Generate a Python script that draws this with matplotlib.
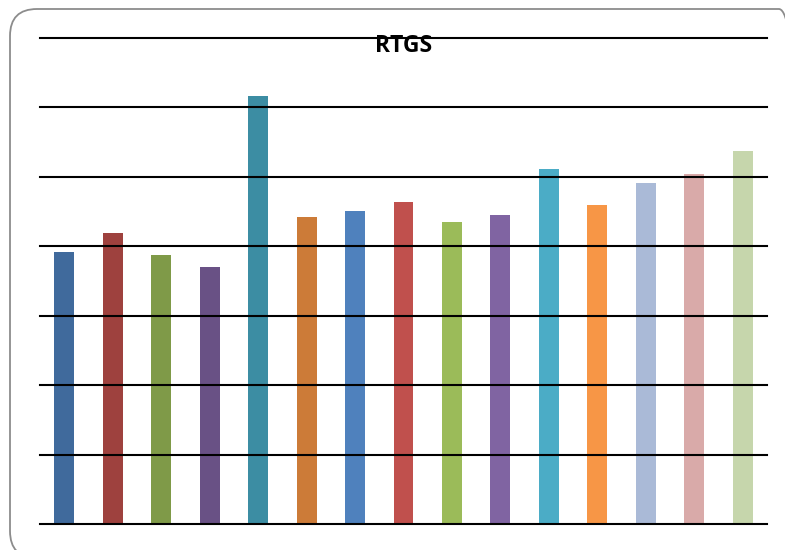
import matplotlib
matplotlib.use("Agg")
import matplotlib.pyplot as plt
from matplotlib.patches import FancyBboxPatch

title = "RTGS"
categories = [str(i) for i in range(1, 16)]
values = [3.92, 4.19, 3.87, 3.70, 6.16, 4.42, 4.51, 4.64, 4.35, 4.45,
          5.11, 4.59, 4.91, 5.04, 5.37]
colors = ["#406A9C", "#9E413E", "#7F9A48", "#695185", "#3C8DA3",
          "#CC7B38", "#4F81BD", "#C0504D", "#9BBB59", "#8064A2",
          "#4BACC6", "#F79646", "#AABAD7", "#D9AAA9", "#C6D6AC"]
gridlines = [0, 1, 2, 3, 4, 5, 6, 7]

fig = plt.figure(figsize=(7.85, 5.5), dpi=100)
fig.patch.set_facecolor("white")

# rounded chart-area border
border = FancyBboxPatch((0.10, -0.08), 7.96, 5.49,
                        boxstyle="round,pad=0,rounding_size=0.27",
                        transform=fig.dpi_scale_trans,
                        facecolor="none", edgecolor="#8c8c8c", linewidth=1.3)
fig.patches.append(border)

ax = fig.add_axes([40/785, 26/550, 727/785, 486/550])
x = list(range(len(categories)))
ax.bar(x, values, width=0.41, color=colors, zorder=2)
for g in gridlines:
    ax.axhline(g, color="black", linewidth=1.5, zorder=3, clip_on=False)
ax.set_xlim(-0.5, len(categories) - 0.5)
ax.set_ylim(0, 7)
ax.set_xticks([])
ax.set_yticks([])
for s in ax.spines.values():
    s.set_visible(False)
ax.patch.set_alpha(0)

fig.text(404/785, 1 - 46/550, title, ha="center", va="center",
         fontsize=16.5, fontweight="bold", family="Open Sans", color="black")

fig.savefig("out.png", dpi=100)
